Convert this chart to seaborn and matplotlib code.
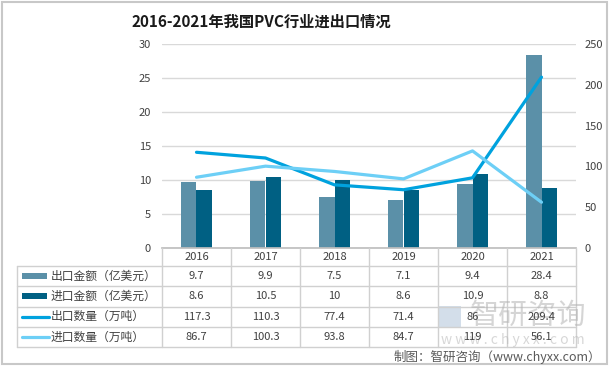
import matplotlib
matplotlib.use("Agg")
import matplotlib.pyplot as plt
from matplotlib.patches import Rectangle
from matplotlib.lines import Line2D
import matplotlib.transforms as mtransforms
import seaborn as sns
import numpy as np
import pandas as pd

# data
years = ["2016", "2017", "2018", "2019", "2020", "2021"]
export_value = [9.7, 9.9, 7.5, 7.1, 9.4, 28.4]      # 亿美元
import_value = [8.6, 10.5, 10, 8.6, 10.9, 8.8]      # 亿美元
export_qty = [117.3, 110.3, 77.4, 71.4, 86, 209.4]  # 万吨
import_qty = [86.7, 100.3, 93.8, 84.7, 119, 56.1]   # 万吨
series_names = ["出口金额（亿美元）", "进口金额（亿美元）", "出口数量（万吨）", "进口数量（万吨）"]
left_ticks = [0, 5, 10, 15, 20, 25, 30]
right_ticks = [0, 50, 100, 150, 200, 250]

colors = ["#5B90A8", "#006083", "#00A2DE", "#6DCFF6"]
TXT = "#404040"
GRID = "#D9D9D9"

sns.set_theme(style="white")
plt.rcParams['font.family'] = ['Noto Sans CJK SC', 'DejaVu Sans']

W, H = 610, 367
fig = plt.figure(figsize=(W / 100, H / 100), dpi=100)


def fx(px):
    return px / W


def fy(py):
    return 1 - py / H


# main plot area in pixels: x 162..576, y 44..248
ax = fig.add_axes([fx(162), fy(248), fx(576) - fx(162), fy(44) - fy(248)])

bars = pd.DataFrame({
    "year": years * 2,
    "series": [series_names[0]] * len(years) + [series_names[1]] * len(years),
    "value": export_value + import_value,
})
sns.barplot(data=bars, x="year", y="value", hue="series", palette=colors[:2],
            width=0.46, saturation=1, linewidth=0, legend=False, ax=ax)

ax.set_ylim(0, 30)
ax.set_yticks(left_ticks)
ax.set_xlim(-0.5, len(years) - 0.5)
ax.grid(axis="y", color=GRID, linewidth=1)
ax.set_axisbelow(True)
ax.set_xlabel("")
ax.set_ylabel("")
ax.set_xticks([])
for s in ["top", "right", "left"]:
    ax.spines[s].set_visible(False)
ax.spines["bottom"].set_color("#BFBFBF")
ax.tick_params(axis="y", length=0, labelsize=8, labelcolor=TXT, pad=8)

ax2 = ax.twinx()
lines = pd.DataFrame({
    "pos": list(range(len(years))) * 2,
    "series": [series_names[2]] * len(years) + [series_names[3]] * len(years),
    "value": export_qty + import_qty,
})
sns.lineplot(data=lines, x="pos", y="value", hue="series", palette=colors[2:],
             linewidth=2.3, legend=False, ax=ax2)
ax2.set_ylim(0, 250)
ax2.set_yticks(right_ticks)
ax2.set_xlim(-0.5, len(years) - 0.5)
ax2.set_xlabel("")
ax2.set_ylabel("")
for s in ["top", "right", "left", "bottom"]:
    ax2.spines[s].set_visible(False)
ax2.tick_params(axis="y", length=0, labelsize=8, labelcolor=TXT, pad=6)
ax2.grid(False)

# data table under the plot
blend = mtransforms.blended_transform_factory(ax.transData, fig.transFigure)
row_lines = [266, 286, 306.5, 327, 347]
row_mid = [(row_lines[i] + row_lines[i + 1]) / 2 for i in range(4)]
line_c = "#D0D0D0"
edges = np.arange(len(years) + 1) - 0.5

for e in edges:
    fig.add_artist(Line2D([e, e], [fy(248), fy(347)], transform=blend,
                          color=line_c, linewidth=1))
fig.add_artist(Line2D([fx(17), fx(17)], [fy(266), fy(347)], color=line_c, linewidth=1))
for r in row_lines:
    fig.add_artist(Line2D([fx(17), fx(576)], [fy(r), fy(r)], color=line_c, linewidth=1))

for i, y in enumerate(years):
    fig.text(i, fy(257), y, transform=blend, ha="center", va="center",
             fontsize=8, color=TXT)

# watermark (drawn before table numbers so they stay on top)
fig.add_artist(Rectangle((fx(439), fy(328)), 22 / W, 22 / H, facecolor="#A9BFD6",
                         edgecolor="none", alpha=0.5))
fig.text(fx(470), fy(316), "智研咨询", ha="left", va="center", fontsize=21,
         color="#B4B4B4", alpha=0.55)
fig.text(fx(513), fy(340), "w w w . c h y x x . c o m", ha="center", va="center",
         fontsize=10, color="#BDBDBD", alpha=0.6)

table_vals = [export_value, import_value, export_qty, import_qty]
for r, vals in enumerate(table_vals):
    ym = fy(row_mid[r])
    for i, v in enumerate(vals):
        fig.text(i, ym, f"{v:g}", transform=blend, ha="center", va="center",
                 fontsize=8, color=TXT)
    if r < 2:
        fig.add_artist(Rectangle((fx(22), ym - 3 / H), fx(47) - fx(22), 6 / H,
                                 facecolor=colors[r], edgecolor="none"))
    else:
        fig.add_artist(Line2D([fx(22), fx(49)], [ym, ym], color=colors[r], linewidth=2.3))
    fig.text(fx(51), ym, series_names[r], ha="left", va="center", fontsize=8.5, color=TXT)

# title
fig.text(fx(261), fy(22), "2016-2021年我国PVC行业进出口情况", ha="center", va="center",
         fontsize=11, fontweight="bold", color="#1a1a1a")

# source
fig.text(fx(601), fy(357), "制图：智研咨询（www.chyxx.com）", ha="right", va="center",
         fontsize=9, color="#595959")

# outer frame
fig.add_artist(Rectangle((fx(2), fy(364)), fx(607) - fx(2), fy(2) - fy(364),
                         facecolor="none", edgecolor="#C8C8C8", linewidth=1.5))

fig.savefig("out.png", dpi=100)
plt.close(fig)
